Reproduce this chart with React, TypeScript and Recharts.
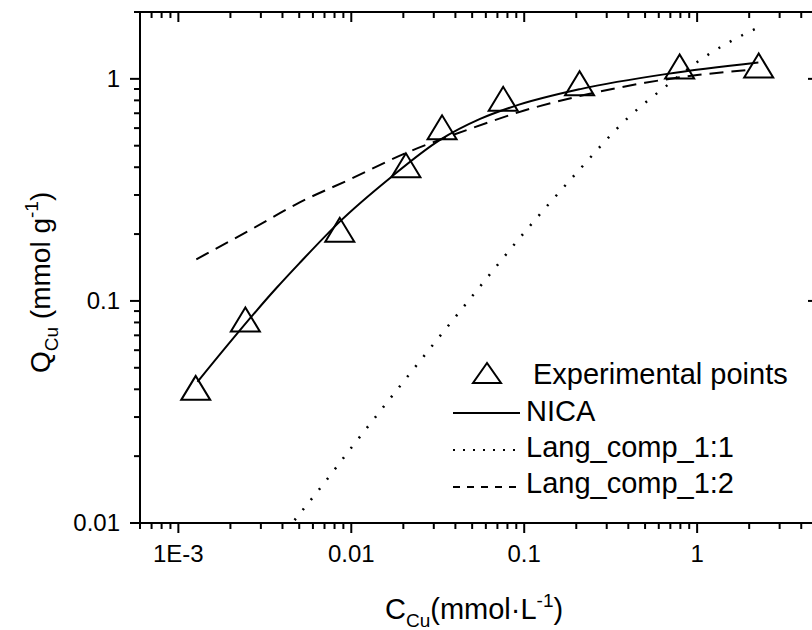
import React from "react";
import {
  ComposedChart,
  Line,
  Scatter,
  XAxis,
  YAxis,
  Legend,
  Label,
} from "recharts";

// values (log-log plot)
const expX = [0.00126, 0.00244, 0.00858, 0.0207, 0.0335, 0.0756, 0.209, 0.792, 2.27];
const expY = [0.0406, 0.0825, 0.209, 0.408, 0.605, 0.813, 0.956, 1.136, 1.148];

const nicaX = [0.00129, 0.00368, 0.00502, 0.00858, 0.0167, 0.0326, 0.0556, 0.0863, 0.211, 0.672, 2.26];
const nicaY = [0.0432, 0.114, 0.148, 0.2276, 0.357, 0.531, 0.66, 0.75, 0.899, 1.053, 1.184];

const lang11X = [0.0047, 0.007, 0.01, 0.02, 0.05, 0.1, 0.2, 0.4, 0.7, 1.0, 1.5, 2.28];
const lang11Y = [0.0103, 0.0152, 0.0218, 0.0432, 0.105, 0.203, 0.376, 0.67, 0.96, 1.19, 1.45, 1.71];

const lang12X = [0.00127, 0.0025, 0.005, 0.01, 0.02, 0.05, 0.1, 0.2, 0.5, 1.0, 2.04];
const lang12Y = [0.154, 0.205, 0.277, 0.355, 0.458, 0.6, 0.72, 0.83, 0.96, 1.04, 1.098];

const seriesNames = ["Experimental points", "NICA", "Lang_comp_1:1", "Lang_comp_1:2"];

const xMajorTicks = [0.001, 0.01, 0.1, 1];
const xMajorLabels = ["1E-3", "0.01", "0.1", "1"];
const xMinorTicks = [
  0.0006, 0.0007, 0.0008, 0.0009,
  0.002, 0.003, 0.004, 0.005, 0.006, 0.007, 0.008, 0.009,
  0.02, 0.03, 0.04, 0.05, 0.06, 0.07, 0.08, 0.09,
  0.2, 0.3, 0.4, 0.5, 0.6, 0.7, 0.8, 0.9,
  2, 3, 4, 5,
];
const yMajorTicks = [0.01, 0.1, 1];
const yMajorLabels = ["0.01", "0.1", "1"];
const yMinorTicks = [
  0.02, 0.03, 0.04, 0.05, 0.06, 0.07, 0.08, 0.09,
  0.2, 0.3, 0.4, 0.5, 0.6, 0.7, 0.8, 0.9,
  2,
];

const toPoints = (xs: number[], ys: number[]) => xs.map((x, i) => ({ x, y: ys[i] }));
const expData = toPoints(expX, expY);
const nicaData = toPoints(nicaX, nicaY);
const lang11Data = toPoints(lang11X, lang11Y);
const lang12Data = toPoints(lang12X, lang12Y);

const xTicks = [...xMajorTicks, ...xMinorTicks].sort((a, b) => a - b);
const yTicks = [...yMajorTicks, ...yMinorTicks].sort((a, b) => a - b);

const FONT = "'Liberation Sans', Arial, sans-serif";
const TICK_FONT = 24;
const MAJOR = 10;
const MINOR = 6;

const BottomTick = (props: any) => {
  const { x, y, payload } = props;
  const i = xMajorTicks.indexOf(payload.value);
  return (
    <g>
      <line x1={x} x2={x} y1={y} y2={y + (i >= 0 ? MAJOR : MINOR)} stroke="#000" strokeWidth={2} />
      {i >= 0 && (
        <text x={x} y={y + 39} textAnchor="middle" fontSize={TICK_FONT} fill="#000">
          {xMajorLabels[i]}
        </text>
      )}
    </g>
  );
};

const TopTick = (props: any) => {
  const { x, y, payload } = props;
  const major = xMajorTicks.includes(payload.value);
  return <line x1={x} x2={x} y1={y} y2={y + (major ? MAJOR : MINOR)} stroke="#000" strokeWidth={2} />;
};

const LeftTick = (props: any) => {
  const { x, y, payload } = props;
  const i = yMajorTicks.indexOf(payload.value);
  return (
    <g>
      <line x1={x} x2={x - (i >= 0 ? MAJOR : MINOR)} y1={y} y2={y} stroke="#000" strokeWidth={2} />
      {i >= 0 && (
        <text x={x - 20} y={y + 8} textAnchor="end" fontSize={TICK_FONT} fill="#000">
          {yMajorLabels[i]}
        </text>
      )}
    </g>
  );
};

const RightTick = (props: any) => {
  const { x, y, payload } = props;
  const major = yMajorTicks.includes(payload.value);
  return <line x1={x} x2={x - (major ? MAJOR : MINOR)} y1={y} y2={y} stroke="#000" strokeWidth={2} />;
};

const Triangle = (props: any) => {
  const { cx, cy } = props;
  if (cx == null || cy == null) return null;
  return (
    <polygon
      points={`${cx},${cy - 12} ${cx - 14.5},${cy + 12} ${cx + 14.5},${cy + 12}`}
      fill="none"
      stroke="#000"
      strokeWidth={2}
    />
  );
};

const NoShape = () => <g />;

const XTitle = () => (
  <text x={385} y={619} fontSize={29} fill="#000">
    C
    <tspan fontSize={19} dy={8}>Cu</tspan>
    <tspan fontSize={29} dy={-8}>(mmol·L</tspan>
    <tspan fontSize={19} dy={-12}>-1</tspan>
    <tspan fontSize={29} dy={12}>)</tspan>
  </text>
);

const YTitle = () => (
  <text transform="rotate(-90)" x={-373} y={50} fontSize={28} fill="#000">
    Q
    <tspan fontSize={19} dy={8}>Cu</tspan>
    <tspan fontSize={28} dy={-8}>{"  (mmol g"}</tspan>
    <tspan fontSize={19} dy={-12}>-1</tspan>
    <tspan fontSize={28} dy={12}>)</tspan>
  </text>
);

const LegendBox = () => (
  <svg width={360} height={160} style={{ display: "block" }}>
    <polygon points="47,13 33,33 61,33" fill="none" stroke="#000" strokeWidth={2} />
    <text x={93} y={34} fontSize={29} fill="#000">{seriesNames[0]}</text>
    <line x1={13} x2={80} y1={63} y2={63} stroke="#000" strokeWidth={2} />
    <text x={86} y={71} fontSize={29} fill="#000">{seriesNames[1]}</text>
    <line x1={13} x2={80} y1={100} y2={100} stroke="#000" strokeWidth={2} strokeDasharray="2 8" />
    <text x={86} y={107} fontSize={29} fill="#000">{seriesNames[2]}</text>
    <line x1={13} x2={80} y1={137} y2={137} stroke="#000" strokeWidth={2} strokeDasharray="7 7" />
    <text x={86} y={143} fontSize={29} fill="#000">{seriesNames[3]}</text>
  </svg>
);

const axisLine = { stroke: "#000", strokeWidth: 2 };

export default function App() {
  return (
    <div
      style={{
        position: "absolute",
        left: 0,
        top: 0,
        width: 812,
        height: 630,
        overflow: "hidden",
        background: "#fff",
        fontFamily: FONT,
      }}
    >
      <ComposedChart width={830} height={630} margin={{ top: 11, right: 11, bottom: 0, left: 0 }}>
        <XAxis
          xAxisId="bottom"
          dataKey="x"
          type="number"
          scale="log"
          domain={[0.0006, 5]}
          allowDataOverflow
          ticks={xTicks}
          interval={0}
          tick={<BottomTick />}
          tickLine={false}
          tickSize={0}
          tickMargin={0}
          height={107}
          axisLine={axisLine}
        >
          <Label content={<XTitle />} />
        </XAxis>
        <XAxis
          xAxisId="top"
          orientation="top"
          dataKey="x"
          type="number"
          scale="log"
          domain={[0.0006, 5]}
          allowDataOverflow
          ticks={xTicks}
          interval={0}
          tick={<TopTick />}
          tickLine={false}
          tickSize={0}
          tickMargin={0}
          height={1}
          axisLine={axisLine}
        />
        <YAxis
          yAxisId="left"
          dataKey="y"
          type="number"
          scale="log"
          domain={[0.01, 2]}
          allowDataOverflow
          ticks={yTicks}
          interval={0}
          tick={<LeftTick />}
          tickLine={false}
          tickSize={0}
          tickMargin={0}
          width={140}
          axisLine={axisLine}
        >
          <Label content={<YTitle />} />
        </YAxis>
        <YAxis
          yAxisId="right"
          orientation="right"
          dataKey="y"
          type="number"
          scale="log"
          domain={[0.01, 2]}
          allowDataOverflow
          ticks={yTicks}
          interval={0}
          tick={<RightTick />}
          tickLine={false}
          tickSize={0}
          tickMargin={0}
          width={1}
          axisLine={axisLine}
        />
        <Line
          xAxisId="bottom"
          yAxisId="left"
          data={lang11Data}
          dataKey="y"
          type="monotone"
          stroke="#000"
          strokeWidth={2.5}
          strokeDasharray="2 11"
          dot={false}
          activeDot={false}
          isAnimationActive={false}
        />
        <Line
          xAxisId="bottom"
          yAxisId="left"
          data={lang12Data}
          dataKey="y"
          type="monotone"
          stroke="#000"
          strokeWidth={2}
          strokeDasharray="14 8"
          dot={false}
          activeDot={false}
          isAnimationActive={false}
        />
        <Line
          xAxisId="bottom"
          yAxisId="left"
          data={nicaData}
          dataKey="y"
          type="monotone"
          stroke="#000"
          strokeWidth={2}
          dot={false}
          activeDot={false}
          isAnimationActive={false}
        />
        <Scatter
          xAxisId="bottom"
          yAxisId="left"
          data={expData}
          dataKey="y"
          shape={<Triangle />}
          isAnimationActive={false}
        />
        {/* invisible copy so the mirrored top/right axes get a scale */}
        <Scatter
          xAxisId="top"
          yAxisId="right"
          data={expData}
          dataKey="y"
          shape={<NoShape />}
          legendType="none"
          isAnimationActive={false}
        />
        <Legend
          layout="vertical"
          align="center"
          verticalAlign="middle"
          content={<LegendBox />}
          wrapperStyle={{ left: 440, top: 350, width: 360 }}
        />
      </ComposedChart>
    </div>
  );
}
